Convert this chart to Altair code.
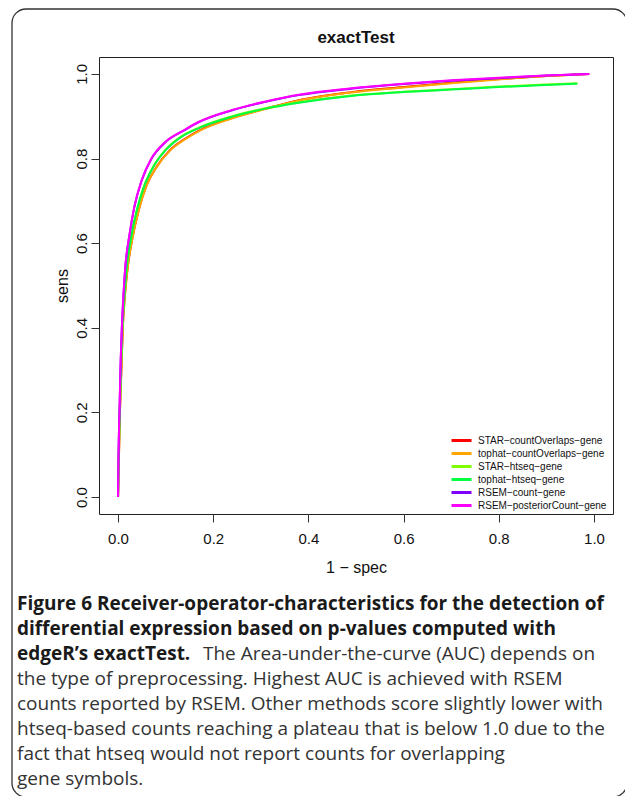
import altair as alt
import pandas as pd

# ---------------- data ----------------
methods = [
    "STAR-countOverlaps-gene",
    "tophat-countOverlaps-gene",
    "STAR-htseq-gene",
    "tophat-htseq-gene",
    "RSEM-count-gene",
    "RSEM-posteriorCount-gene",
]
colors = ["#FF0000", "#FFA500", "#80FF00", "#00FF40", "#8000FF", "#FF00FF"]

fpr_star_co = [0, 0.002, 0.004, 0.007, 0.010, 0.014, 0.020, 0.030, 0.044, 0.060, 0.080, 0.110, 0.140, 0.170, 0.240, 0.310, 0.380, 0.490, 0.600, 0.700, 0.800, 0.900, 0.990]
tpr_star_co = [0, 0.10, 0.20, 0.30, 0.40, 0.47, 0.54, 0.611, 0.681, 0.737, 0.779, 0.821, 0.846, 0.866, 0.896, 0.918, 0.938, 0.957, 0.969, 0.979, 0.988, 0.995, 1.0]

fpr_tophat_co = [0, 0.002, 0.004, 0.007, 0.010, 0.014, 0.020, 0.030, 0.044, 0.060, 0.080, 0.110, 0.140, 0.170, 0.240, 0.310, 0.380, 0.490, 0.600, 0.700, 0.800, 0.900, 0.990]
tpr_tophat_co = [0, 0.10, 0.20, 0.30, 0.40, 0.47, 0.54, 0.61, 0.68, 0.736, 0.778, 0.82, 0.845, 0.865, 0.895, 0.917, 0.937, 0.956, 0.968, 0.978, 0.987, 0.995, 1.0]

fpr_star_ht = [0, 0.0015, 0.0035, 0.006, 0.009, 0.013, 0.018, 0.027, 0.040, 0.055, 0.075, 0.100, 0.130, 0.170, 0.240, 0.310, 0.380, 0.490, 0.600, 0.700, 0.800, 0.900, 0.965]
tpr_star_ht = [0, 0.10, 0.20, 0.30, 0.40, 0.47, 0.54, 0.611, 0.681, 0.736, 0.783, 0.821, 0.850, 0.873, 0.900, 0.919, 0.933, 0.949, 0.958, 0.964, 0.970, 0.975, 0.978]

fpr_tophat_ht = [0, 0.0015, 0.0035, 0.006, 0.009, 0.013, 0.018, 0.027, 0.040, 0.055, 0.075, 0.100, 0.130, 0.170, 0.240, 0.310, 0.380, 0.490, 0.600, 0.700, 0.800, 0.900, 0.965]
tpr_tophat_ht = [0, 0.10, 0.20, 0.30, 0.40, 0.47, 0.54, 0.61, 0.68, 0.735, 0.782, 0.82, 0.849, 0.872, 0.899, 0.918, 0.932, 0.948, 0.957, 0.963, 0.969, 0.974, 0.977]

fpr_rsem_count = [0, 0.001, 0.003, 0.005, 0.008, 0.011, 0.015, 0.024, 0.034, 0.050, 0.070, 0.100, 0.140, 0.170, 0.240, 0.310, 0.380, 0.490, 0.600, 0.700, 0.800, 0.900, 0.990]
tpr_rsem_count = [0, 0.10, 0.20, 0.30, 0.40, 0.47, 0.54, 0.619, 0.684, 0.749, 0.799, 0.839, 0.867, 0.886, 0.914, 0.934, 0.950, 0.965, 0.976, 0.984, 0.990, 0.996, 1.0]

fpr_rsem_post = [0, 0.001, 0.003, 0.005, 0.008, 0.011, 0.015, 0.024, 0.034, 0.050, 0.070, 0.100, 0.140, 0.170, 0.240, 0.310, 0.380, 0.490, 0.600, 0.700, 0.800, 0.900, 0.990]
tpr_rsem_post = [0, 0.10, 0.20, 0.30, 0.40, 0.47, 0.54, 0.62, 0.685, 0.75, 0.80, 0.84, 0.868, 0.887, 0.915, 0.935, 0.951, 0.966, 0.977, 0.985, 0.991, 0.996, 1.0]

x_ticks = [0.0, 0.2, 0.4, 0.6, 0.8, 1.0]
y_ticks = [0.0, 0.2, 0.4, 0.6, 0.8, 1.0]

plot_title = "exactTest"
x_title = "1 \u2212 spec"
y_title = "sens"

caption_bold = [
    "Figure 6 Receiver-operator-characteristics for the detection of",
    "differential expression based on p-values computed with",
    "edgeR\u2019s exactTest.",
]
caption_first_regular = "The Area-under-the-curve (AUC) depends on"
caption_regular = [
    "the type of preprocessing. Highest AUC is achieved with RSEM",
    "counts reported by RSEM. Other methods score slightly lower with",
    "htseq-based counts reaching a plateau that is below 1.0 due to the",
    "fact that htseq would not report counts for overlapping",
    "gene symbols.",
]

# ---------------- table ----------------
series = [
    (fpr_star_co, tpr_star_co),
    (fpr_tophat_co, tpr_tophat_co),
    (fpr_star_ht, tpr_star_ht),
    (fpr_tophat_ht, tpr_tophat_ht),
    (fpr_rsem_count, tpr_rsem_count),
    (fpr_rsem_post, tpr_rsem_post),
]
labels = [m.replace("-", "\u2212") for m in methods]
rows = []
for name, (fx, ty) in zip(labels, series):
    for i, (a, b) in enumerate(zip(fx, ty)):
        rows.append({"method": name, "fpr": a, "tpr": b, "idx": i})
df = pd.DataFrame(rows)

W, H = 514, 457
FONT = "Liberation Sans"
CAP_FONT = "Open Sans"
CAP_SIZE = 19

x_axis = alt.Axis(
    values=x_ticks, format=".1f", grid=False, domain=False,
    tickSize=8, tickColor="#333", tickWidth=1,
    labelFont=FONT, labelFontSize=15, labelColor="#111",
    labelBaseline="middle", labelPadding=16,
    title=x_title, titleFont=FONT, titleFontSize=16, titleFontWeight="normal",
    titleColor="#111", titleX=W / 2, titleY=53, titleBaseline="middle",
)
y_axis = alt.Axis(
    values=y_ticks, format=".1f", grid=False, domain=False,
    tickSize=8, tickColor="#333", tickWidth=1,
    labelFont=FONT, labelFontSize=15, labelColor="#111",
    labelAngle=270, labelAlign="center", labelBaseline="middle", labelPadding=10,
    title=y_title, titleFont=FONT, titleFontSize=16, titleFontWeight="normal",
    titleColor="#111", titleX=-37, titleY=H / 2, titleAngle=270,
    titleAlign="center", titleBaseline="middle",
)

lines = alt.Chart(df).mark_line(strokeWidth=2, interpolate="monotone").encode(
    x=alt.X("fpr:Q", scale=alt.Scale(domain=[-0.04, 1.04], nice=False, zero=False), axis=x_axis),
    y=alt.Y("tpr:Q", scale=alt.Scale(domain=[-0.04, 1.04], nice=False, zero=False), axis=y_axis),
    color=alt.Color(
        "method:N",
        scale=alt.Scale(domain=labels, range=colors),
        legend=alt.Legend(
            orient="none", legendX=356, legendY=377, title=None,
            symbolType="M-2,0H2", symbolSize=100, symbolStrokeWidth=3,
            labelFont=FONT, labelFontSize=10, labelColor="#111",
            rowPadding=-1.9, padding=0, labelOffset=10,
        ),
    ),
    order=alt.Order("idx:Q"),
)

one = pd.DataFrame({"k": [0]})
frame = alt.Chart(one).mark_rect(
    fillOpacity=0, stroke="#333", strokeWidth=1.3, cornerRadius=14
).encode(
    x=alt.value(-87), x2=alt.value(528), y=alt.value(-48), y2=alt.value(740)
)

bold_txt = alt.Chart(pd.DataFrame({"t": [caption_bold]})).mark_text(
    align="left", baseline="alphabetic", font=CAP_FONT, fontSize=CAP_SIZE,
    fontWeight="bold", color="#1a1a1a", lineHeight=25,
).encode(text="t", x=alt.value(-82), y=alt.value(553))

reg_first = alt.Chart(pd.DataFrame({"t": [caption_first_regular]})).mark_text(
    align="left", baseline="alphabetic", font=CAP_FONT, fontSize=CAP_SIZE,
    color="#333", lineHeight=25,
).encode(text="t", x=alt.value(104), y=alt.value(603))

reg_txt = alt.Chart(pd.DataFrame({"t": [caption_regular]})).mark_text(
    align="left", baseline="alphabetic", font=CAP_FONT, fontSize=CAP_SIZE,
    color="#333", lineHeight=25,
).encode(text="t", x=alt.value(-82), y=alt.value(628))

chart = alt.layer(frame, lines, bold_txt, reg_first, reg_txt).properties(
    width=W, height=H,
    autosize="none",
    padding={"left": 91, "top": 49, "right": 12, "bottom": 282},
    title=alt.TitleParams(plot_title, font=FONT, fontSize=17, fontWeight="bold",
                          color="#111", anchor="middle", offset=10, frame="group",
                          dy=49),
).configure_view(stroke="#222", strokeWidth=1)

chart.save("out.html", embed_options={"renderer": "svg", "actions": False})
